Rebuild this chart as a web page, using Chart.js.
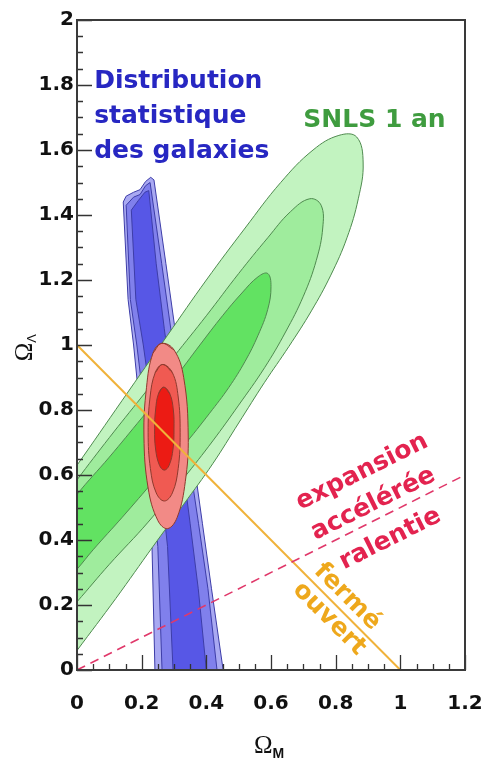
<!DOCTYPE html>
<html>
<head>
<meta charset="utf-8">
<script src="https://cdn.jsdelivr.net/npm/chart.js@4.4.1/dist/chart.umd.min.js"></script>
<style>
  html, body { margin: 0; padding: 0; background: #ffffff; }
  #wrap { width: 484px; height: 760px; }
</style>
</head>
<body>
<div id="wrap"><canvas id="c" width="484" height="760"></canvas></div>
<script>
// Axis ticks
const xTicks = [0, 0.2, 0.4, 0.6, 0.8, 1, 1.2];
const xTickLabels = ['0', '0.2', '0.4', '0.6', '0.8', '1', '1.2'];
const yTicks = [0, 0.2, 0.4, 0.6, 0.8, 1, 1.2, 1.4, 1.6, 1.8, 2];
const yTickLabels = ['0', '0.2', '0.4', '0.6', '0.8', '1', '1.2', '1.4', '1.6', '1.8', '2'];

// SNLS first-year contours (Omega_M, Omega_Lambda)
const snlsOuter = [
  [-0.32, 0.05], [-0.25, 0.26], [-0.13, 0.45], [0.0, 0.63], [0.14, 0.83], [0.28, 1.03],
  [0.40, 1.20], [0.52, 1.36], [0.63, 1.50], [0.73, 1.60], [0.81, 1.645], [0.865, 1.64],
  [0.885, 1.56], [0.87, 1.45], [0.835, 1.33], [0.785, 1.215], [0.725, 1.105], [0.655, 0.995],
  [0.58, 0.885], [0.50, 0.76], [0.42, 0.635], [0.33, 0.51], [0.235, 0.38], [0.12, 0.22],
  [0.0, 0.06], [-0.12, -0.10], [-0.25, -0.12]
];
const snlsMiddle = [
  [-0.25, 0.15], [-0.2, 0.30], [-0.1, 0.45], [0.0, 0.585], [0.10, 0.715], [0.20, 0.84],
  [0.30, 0.965], [0.40, 1.09], [0.50, 1.22], [0.59, 1.33], [0.66, 1.41], [0.72, 1.45],
  [0.755, 1.43], [0.76, 1.36], [0.74, 1.26], [0.70, 1.15], [0.645, 1.04], [0.58, 0.93],
  [0.50, 0.815], [0.42, 0.705], [0.33, 0.59], [0.22, 0.455], [0.10, 0.325], [0.0, 0.21],
  [-0.1, 0.10], [-0.22, 0.05]
];
const snlsInner = [
  [-0.15, 0.25], [-0.08, 0.43], [0.0, 0.54], [0.10, 0.655], [0.20, 0.775], [0.30, 0.895],
  [0.38, 1.0], [0.45, 1.09], [0.51, 1.16], [0.56, 1.21], [0.59, 1.22], [0.60, 1.18],
  [0.59, 1.11], [0.56, 1.03], [0.52, 0.95], [0.47, 0.87], [0.41, 0.79], [0.33, 0.69],
  [0.24, 0.585], [0.14, 0.47], [0.05, 0.37], [0.0, 0.31], [-0.1, 0.2]
];

// Galaxy clustering band
const galaxyOuter = [
  [0.143, 1.44], [0.152, 1.458], [0.175, 1.47], [0.195, 1.478], [0.212, 1.503], [0.228, 1.516],
  [0.238, 1.508], [0.275, 1.25], [0.303, 1.05], [0.331, 0.85], [0.36, 0.65], [0.388, 0.45],
  [0.416, 0.25], [0.452, 0.0], [0.46, -0.05], [0.24, -0.05], [0.241, 0.0], [0.232, 0.38],
  [0.20, 0.75], [0.175, 1.0], [0.158, 1.14]
];
const galaxyMiddle = [
  [0.152, 1.43], [0.175, 1.455], [0.195, 1.463], [0.212, 1.49], [0.226, 1.5], [0.262, 1.25],
  [0.29, 1.05], [0.318, 0.85], [0.346, 0.65], [0.376, 0.45], [0.405, 0.25], [0.433, 0.0],
  [0.44, -0.05], [0.26, -0.05], [0.263, 0.0], [0.25, 0.38], [0.215, 0.75], [0.185, 1.0],
  [0.165, 1.14]
];
const galaxyInner = [
  [0.168, 1.415], [0.19, 1.445], [0.21, 1.47], [0.222, 1.475], [0.245, 1.25], [0.27, 1.05],
  [0.297, 0.85], [0.324, 0.65], [0.35, 0.45], [0.375, 0.25], [0.40, 0.0], [0.405, -0.05],
  [0.295, -0.05], [0.297, 0.0], [0.28, 0.38], [0.24, 0.75], [0.205, 1.0], [0.182, 1.14]
];

// Combined constraint
const jointOuter = [
  [0.262, 1.005], [0.30, 0.985], [0.33, 0.90], [0.344, 0.72], [0.335, 0.58], [0.31, 0.47],
  [0.28, 0.435], [0.25, 0.46], [0.22, 0.56], [0.207, 0.72], [0.215, 0.87], [0.235, 0.975]
];
const jointMiddle = [
  [0.265, 0.94], [0.295, 0.915], [0.313, 0.84], [0.319, 0.73], [0.313, 0.62], [0.295, 0.545],
  [0.27, 0.52], [0.245, 0.545], [0.227, 0.62], [0.22, 0.73], [0.226, 0.84], [0.242, 0.915]
];
const jointInner = [
  [0.268, 0.87], [0.287, 0.85], [0.298, 0.80], [0.30, 0.742], [0.297, 0.68], [0.285, 0.63],
  [0.27, 0.615], [0.255, 0.63], [0.243, 0.68], [0.24, 0.742], [0.243, 0.80], [0.252, 0.85]
];

// Reference lines
const flatLine = [[0, 1], [1, 0]];
const accelLine = [[0, 0], [1.2, 0.6]];

const toPts = arr => arr.map(([x, y]) => ({ x, y }));
// smooth closed loop: wrap one point before and two after so the seam is interior
const smoothLoop = arr => toPts([arr[arr.length - 1], ...arr, arr[0], arr[1]]);
const polyLoop = arr => toPts([...arr, arr[0]]);

function region(data, fill, line, order, tension) {
  return {
    data, showLine: true, fill: 'shape', backgroundColor: fill, borderColor: line,
    borderWidth: 1, pointRadius: 0, pointHoverRadius: 0, tension, order
  };
}

const GREEN_LINE = '#4f8a4f', RED_LINE = '#8e3a2e', BLUE_LINE = '#3d3da8';

const datasets = [
  region(polyLoop(galaxyOuter), '#a9a9f2', BLUE_LINE, 20, 0),
  region(polyLoop(galaxyMiddle), '#8080ec', BLUE_LINE, 19, 0),
  region(polyLoop(galaxyInner), '#5757e6', BLUE_LINE, 18, 0),
  region(smoothLoop(snlsOuter), '#c2f3c0', GREEN_LINE, 17, 0.4),
  region(smoothLoop(snlsMiddle), '#9fec9d', GREEN_LINE, 16, 0.4),
  region(smoothLoop(snlsInner), '#62e262', GREEN_LINE, 15, 0.4),
  region(smoothLoop(jointOuter), '#f28a86', RED_LINE, 14, 0.4),
  region(smoothLoop(jointMiddle), '#f05a52', RED_LINE, 13, 0.4),
  region(smoothLoop(jointInner), '#ec1b14', RED_LINE, 12, 0.4),
  { data: toPts(flatLine), showLine: true, fill: false, borderColor: '#f0b23a', borderWidth: 2,
    pointRadius: 0, tension: 0, order: 2 },
  { data: toPts(accelLine), showLine: true, fill: false, borderColor: '#e0386a', borderWidth: 1.6,
    borderDash: [9, 6], pointRadius: 0, tension: 0, order: 1 }
];

const TICK_FONT = { family: 'DejaVu Sans', weight: 'bold', size: 20 };

// frame, inward tick marks, axis titles and annotations
const decorations = {
  id: 'decorations',
  afterDatasetsDraw(chart) {
    const { ctx, chartArea: a, scales: { x, y } } = chart;
    ctx.save();
    ctx.strokeStyle = '#333333';
    ctx.lineWidth = 1.3;
    ctx.beginPath();
    for (let i = 0; i <= 24; i++) {
      const v = i * 0.05;
      const px = Math.round(x.getPixelForValue(v)) + 0.5;
      const len = i % 4 === 0 ? 15 : 6;
      ctx.moveTo(px, a.bottom); ctx.lineTo(px, a.bottom - len);
    }
    for (let i = 0; i <= 40; i++) {
      const v = i * 0.05;
      const py = Math.round(y.getPixelForValue(v)) + 0.5;
      const len = i % 4 === 0 ? 15 : 6;
      ctx.moveTo(a.left, py); ctx.lineTo(a.left + len, py);
    }
    ctx.stroke();

    ctx.lineWidth = 2;
    ctx.strokeStyle = '#3a3a3a';
    ctx.strokeRect(a.left, a.top, a.right - a.left, a.bottom - a.top);

    const text = (str, vx, vy, color, deg, align, base) => {
      ctx.save();
      ctx.translate(x.getPixelForValue(vx), y.getPixelForValue(vy));
      ctx.rotate(deg * Math.PI / 180);
      ctx.fillStyle = color;
      ctx.textAlign = align;
      ctx.textBaseline = base;
      ctx.fillText(str, 0, 0);
      ctx.restore();
    };
    ctx.font = 'bold 25px "DejaVu Sans"';
    const blue = '#2727c2';
    text('Distribution', 0.053, 1.79, blue, 0, 'left', 'alphabetic');
    text('statistique', 0.053, 1.682, blue, 0, 'left', 'alphabetic');
    text('des galaxies', 0.053, 1.574, blue, 0, 'left', 'alphabetic');
    text('SNLS 1 an', 0.70, 1.671, '#3f9c3f', 0, 'left', 'alphabetic');

    const red = '#e3234f';
    text('expansion', 0.882, 0.609, red, -26.5, 'center', 'middle');
    text('accélérée', 0.916, 0.511, red, -26.5, 'center', 'middle');
    text('ralentie', 0.969, 0.403, red, -26.5, 'center', 'middle');

    const orange = '#eea81c';
    text('fermé', 0.836, 0.225, orange, 45, 'center', 'middle');
    text('ouvert', 0.780, 0.157, orange, 45, 'center', 'middle');

    // axis titles
    ctx.fillStyle = '#111111';
    ctx.textAlign = 'left';
    ctx.textBaseline = 'alphabetic';
    const cx = (a.left + a.right) / 2;
    ctx.font = '25px "Liberation Serif"';
    const wO = ctx.measureText('Ω').width;
    ctx.font = 'bold 14px "Liberation Sans"';
    const wM = ctx.measureText('M').width;
    const x0 = cx - (wO + wM) / 2 - 2;
    ctx.font = '25px "Liberation Serif"';
    ctx.fillText('Ω', x0, a.bottom + 83);
    ctx.font = 'bold 14px "Liberation Sans"';
    ctx.fillText('M', x0 + wO, a.bottom + 88);

    ctx.save();
    ctx.translate(a.left - 45, y.getPixelForValue(0.95));
    ctx.rotate(-Math.PI / 2);
    ctx.font = '25px "Liberation Serif"';
    ctx.fillText('Ω', 0, 0);
    ctx.font = '13px "Liberation Sans"';
    ctx.fillText('Λ', wO, 4);
    ctx.restore();

    ctx.restore();
  }
};

new Chart(document.getElementById('c'), {
  type: 'scatter',
  data: { datasets },
  options: {
    responsive: false,
    devicePixelRatio: 1,
    animation: false,
    layout: { padding: { top: 20, right: 19, left: 0, bottom: 0 } },
    elements: { line: { capBezierPoints: false } },
    plugins: { legend: { display: false }, tooltip: { enabled: false } },
    scales: {
      x: {
        type: 'linear', min: 0, max: 1.2,
        afterBuildTicks: s => { s.ticks = xTicks.map(v => ({ value: v })); },
        afterFit: s => { s.height = 90; s.paddingLeft = 0; s.paddingRight = 0; },
        ticks: { callback: (v, i) => xTickLabels[i], font: TICK_FONT, color: '#111111',
                 padding: 22, maxRotation: 0, autoSkip: false },
        grid: { display: false, drawTicks: false },
        border: { display: false }
      },
      y: {
        type: 'linear', min: 0, max: 2,
        afterBuildTicks: s => { s.ticks = yTicks.map(v => ({ value: v })); },
        afterFit: s => { s.width = 77; s.paddingTop = 0; s.paddingBottom = 0; },
        ticks: { callback: (v, i) => yTickLabels[i], font: TICK_FONT, color: '#111111',
                 padding: 3, autoSkip: false },
        grid: { display: false, drawTicks: false },
        border: { display: false }
      }
    }
  },
  plugins: [decorations]
});
</script>
</body>
</html>
